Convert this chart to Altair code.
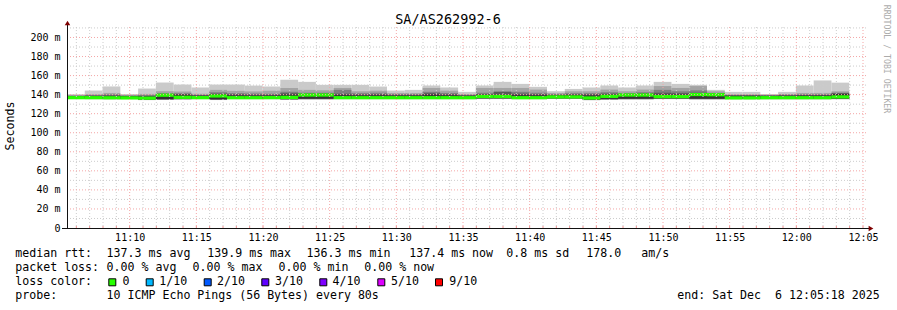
import altair as alt
import pandas as pd

# ---------------- data ----------------
TITLE = "SA/AS262992-6"
X_START = 318      # 11:05:18 in seconds after 11:00:00
X_END = 3918       # 12:05:18
STEP_S = 80        # probe step (seconds)

# sorted ping values (ms) per 80 s step; p1 = fastest ... p10 = slowest
p10 = [140.5,144.3,148.6,140.6,146.4,152.7,150.6,147.5,150.6,150.6,149.5,148.6,155.5,153.4,150.3,150.3,150.3,148.5,144.3,145.0,149.6,147.5,142.9,149.6,153.4,151.3,148.2,143.6,146.0,147.5,149.6,147.5,149.6,153.4,151.3,150.3,145.0,142.9,142.9,140.5,142.9,149.6,154.9,152.6]
p9 = [139.5,140.5,141.8,139.6,140.8,143.6,143.3,141.0,145.0,144.0,143.4,144.0,147.0,145.0,144.6,147.0,143.5,144.2,141.8,141.8,147.0,144.2,140.7,147.0,147.0,147.0,145.3,141.8,143.5,143.5,145.3,143.5,145.3,149.0,147.0,149.0,143.5,140.5,140.5,140.0,140.8,141.8,141.8,143.5]
p8 = [139.0,139.6,140.3,139.0,139.5,141.5,141.5,140.0,142.5,141.6,141.2,141.0,143.0,142.0,142.0,145.0,141.5,142.0,140.5,140.5,143.0,141.8,139.8,142.0,143.5,143.0,142.0,140.5,141.5,141.5,142.5,141.5,142.5,145.0,143.5,144.5,141.8,139.6,139.6,139.6,140.0,140.4,140.4,142.0]
p7 = [138.6,139.0,139.4,138.6,138.8,140.6,140.6,139.4,141.0,140.4,140.0,140.0,141.5,141.0,141.0,141.0,140.2,140.5,139.8,139.8,141.5,140.4,139.3,140.4,142.8,141.0,140.5,139.8,140.4,140.4,141.0,140.8,141.2,142.0,141.5,142.0,141.0,139.2,139.2,139.0,139.4,139.6,139.6,141.3]
p6 = [138.3,138.5,138.6,138.2,138.0,140.2,139.8,138.8,140.2,139.2,139.0,139.0,140.0,140.4,140.4,139.5,139.2,139.3,139.0,139.0,140.0,139.3,138.8,139.8,139.5,139.5,139.3,139.2,139.6,139.2,140.0,140.4,140.6,140.0,140.0,141.2,140.6,138.8,138.8,138.6,138.8,139.0,139.0,140.8]
median = [136.8,136.8,136.7,136.6,136.3,139.4,137.2,136.8,138.6,136.8,136.8,136.8,137.0,139.6,139.6,136.8,136.8,136.8,136.8,136.8,136.8,136.8,136.8,138.0,138.0,136.8,136.8,137.6,137.6,136.5,138.2,139.6,139.6,137.9,137.9,140.1,139.9,136.6,136.6,136.8,136.8,136.8,136.8,137.6]
p5 = [136.3,136.3,136.2,136.0,135.2,135.4,135.8,136.2,135.2,136.2,136.2,136.2,135.6,135.8,135.8,136.2,136.2,136.2,136.2,136.2,136.2,136.2,136.2,136.4,136.4,136.2,136.2,136.4,136.4,135.0,135.6,135.8,135.8,136.2,136.2,135.8,135.8,136.0,136.0,136.0,136.0,136.0,136.0,136.0]
p4 = [136.0,136.0,135.9,135.8,134.8,135.0,135.4,135.8,134.9,135.9,135.9,135.9,135.2,135.5,135.5,135.9,135.9,135.9,135.9,135.9,135.9,135.9,135.9,136.0,136.0,135.9,135.9,136.1,136.1,134.7,135.2,135.5,135.5,135.9,135.9,135.5,135.5,135.7,135.7,135.7,135.7,135.7,135.7,135.7]
p3 = [135.8,135.8,135.6,135.6,134.6,134.8,135.2,135.6,134.7,135.6,135.6,135.6,135.0,135.3,135.3,135.6,135.6,135.6,135.6,135.6,135.6,135.6,135.6,135.7,135.7,135.6,135.6,135.8,135.8,134.5,135.0,135.3,135.3,135.6,135.6,135.3,135.3,135.5,135.5,135.5,135.5,135.5,135.5,135.5]
p2 = [135.6,135.5,135.3,135.4,134.4,134.6,135.0,135.4,134.5,135.4,135.4,135.4,134.8,135.1,135.1,135.4,135.4,135.4,135.4,135.4,135.4,135.4,135.4,135.5,135.5,135.4,135.4,135.6,135.6,134.3,134.8,135.1,135.1,135.4,135.4,135.1,135.1,135.3,135.3,135.3,135.3,135.3,135.3,135.3]
p1 = [135.4,135.2,135.0,135.2,134.2,134.4,134.8,135.2,134.3,135.2,135.2,135.2,134.6,134.9,134.9,135.2,135.2,135.2,135.2,135.2,135.2,135.2,135.2,135.3,135.3,135.2,135.2,135.4,135.4,134.1,134.6,134.9,134.9,135.2,135.2,134.9,134.9,135.1,135.1,135.1,135.1,135.1,135.1,135.1]

y_ticks = [0, 20, 40, 60, 80, 100, 120, 140, 160, 180, 200]
y_major = [20, 40, 60, 80, 100, 120, 140, 160, 180, 200]
y_minor = [10, 30, 50, 70, 90, 110, 130, 150, 170, 190, 210]
x_major = [600, 900, 1200, 1500, 1800, 2100, 2400, 2700, 3000, 3300, 3600, 3900]  # 11:10 .. 12:05
x_minor = [m * 60 for m in range(6, 66) if m % 5 != 0]

loss_labels = ["0", "1/10", "2/10", "3/10", "4/10", "5/10", "9/10"]
loss_colors = ["#26ff00", "#00b8ff", "#0059ff", "#5e00ff", "#7e00ff", "#dd00ff", "#ff0000"]

legend_lines = [
    ["median rtt:", "137.3 ms avg", "139.9 ms max", "136.3 ms min", "137.4 ms now", "0.8 ms sd", "178.0", "am/s"],
    ["packet loss:", "0.00 % avg", "0.00 % max", "0.00 % min", "0.00 % now"],
    ["loss color:"],
    ["probe:", "10 ICMP Echo Pings (56 Bytes) every 80s", "end: Sat Dec \u00a06 12:05:18 2025"],
]

# ---------------- layout (pixels) ----------------
OX, OY = 67, 27          # plot origin in the page
W, H = 800, 201
FONT = "DejaVu Sans Mono"
BIG = 11.6

xs = alt.Scale(domain=[X_START, X_END], nice=False, zero=False)
ys = alt.Scale(domain=[0, 211], nice=False, zero=False)

n = len(median)
t0 = [X_START + STEP_S * k for k in range(n)]
t1 = [t + STEP_S for t in t0]
pings = [p1, p2, p3, p4, p5, p6, p7, p8, p9, p10]
shades = ["#cacaca", "#a4a4a4", "#7e7e7e", "#585858", "#323232"]

layers = []

# smoke bands
for i in range(5):
    df = pd.DataFrame({"t0": t0, "t1": t1, "lo": pings[i], "hi": pings[9 - i]})
    layers.append(alt.Chart(df).mark_rect(color=shades[i], strokeWidth=0).encode(
        x=alt.X("t0:Q", scale=xs, axis=None), x2="t1:Q",
        y=alt.Y("lo:Q", scale=ys, axis=None), y2="hi:Q"))

# median band
HALF = 1.7
dmed = pd.DataFrame({"t0": t0, "t1": t1,
                     "lo": [m - HALF for m in median], "hi": [m + HALF for m in median]})
layers.append(alt.Chart(dmed).mark_rect(color=loss_colors[0], strokeWidth=0).encode(
    x=alt.X("t0:Q", scale=xs, axis=None), x2="t1:Q",
    y=alt.Y("lo:Q", scale=ys, axis=None), y2="hi:Q"))

# grid (drawn over the data like rrdtool)
def vgrid(vals, color):
    return alt.Chart(pd.DataFrame({"v": vals})).mark_rule(
        color=color, strokeDash=[1, 2], strokeWidth=1).encode(
        x=alt.X("v:Q", scale=xs, axis=None), y=alt.value(0), y2=alt.value(H))

def hgrid(vals, color):
    return alt.Chart(pd.DataFrame({"v": vals})).mark_rule(
        color=color, strokeDash=[1, 2], strokeWidth=1).encode(
        y=alt.Y("v:Q", scale=ys, axis=None), x=alt.value(0), x2=alt.value(W))

layers += [vgrid(x_minor, "#cccccc"), hgrid(y_minor, "#cccccc"),
           vgrid(x_major, "#f4a6a6"), hgrid(y_major, "#f4a6a6")]

# axes with labels (no lines)
min_expr = "floor((datum.value % 3600) / 60)"
xlab = ("(floor(datum.value / 3600) + 11) + ':' + (" + min_expr + " < 10 ? '0' : '') + " + min_expr)
axis_layer = alt.Chart(pd.DataFrame({"v": x_major, "w": y_ticks + [0]})).mark_point(opacity=0).encode(
    x=alt.X("v:Q", scale=xs, axis=alt.Axis(values=x_major, labelExpr=xlab, grid=False, ticks=False,
                                           tickSize=0, domain=False, labelPadding=4, title=None,
                                           labelFont=FONT, labelFontSize=10, labelColor="#000",
                                           labelFlush=False, labelOverlap=False)),
    y=alt.Y("w:Q", scale=ys, axis=alt.Axis(values=y_ticks,
                                           labelExpr="datum.value == 0 ? '0\u00a0\u00a0' : datum.value + ' m'",
                                           grid=False, ticks=False, tickSize=0, domain=False,
                                           labelPadding=7, title=None, labelFont=FONT,
                                           labelFontSize=10, labelColor="#000", labelFlush=False,
                                           labelOverlap=False)),
)
layers.append(axis_layer)

# small minute ticks on the time axis
layers.append(alt.Chart(pd.DataFrame({"v": x_minor + x_major})).mark_rule(color="#f08c8c", strokeWidth=1).encode(
    x=alt.X("v:Q", scale=xs, axis=None), y=alt.value(H - 2), y2=alt.value(H)))

# axis lines and arrows
layers.append(alt.Chart(pd.DataFrame({"a": [0]})).mark_rule(color="#111", strokeWidth=1).encode(
    x=alt.value(-5), x2=alt.value(W + 4), y=alt.value(H + 0.5)))
layers.append(alt.Chart(pd.DataFrame({"a": [0]})).mark_rule(color="#111", strokeWidth=1).encode(
    x=alt.value(0.5), y=alt.value(H), y2=alt.value(-4)))
arrows = pd.DataFrame({"x": [0.5, W + 4], "y": [-4, H + 0.5], "s": ["triangle-up", "triangle-right"]})
layers.append(alt.Chart(arrows).mark_point(filled=True, color="#7f0000", size=30, opacity=1).encode(
    x=alt.X("x:Q", scale=None, axis=None), y=alt.Y("y:Q", scale=None, axis=None),
    shape=alt.Shape("s:N", scale=None, legend=None)))

# ---------------- texts ----------------
legend_x = [
    [16, 107.3, 208, 307.3, 410, 507, 587, 642],
    [16, 107.3, 193.3, 279.3, 365],
    [16],
    [16, 107.3, 678],
]
legend_y = [254.3, 268.3, 282.3, 296.3]
rows = []
for line, xs_, yy in zip(legend_lines, legend_x, legend_y):
    for t, xx in zip(line, xs_):
        rows.append({"x": xx - 0.7 - OX, "y": yy - OY, "text": t})
sq_left = [108.3, 145.7, 203.7, 261.3, 319.3, 377.3, 435]
lab_left = [123.3, 160, 217.7, 275.7, 333.3, 391.7, 450]
for t, xx in zip(loss_labels, lab_left):
    rows.append({"x": xx - 0.7 - OX, "y": 282.3 - OY, "text": t})

def text_layer(df, **kw):
    return alt.Chart(df).mark_text(font=FONT, **kw).encode(
        x=alt.X("x:Q", scale=None, axis=None), y=alt.Y("y:Q", scale=None, axis=None), text="text:N")

layers.append(text_layer(pd.DataFrame(rows), fontSize=BIG, align="left", baseline="middle", color="#000"))
layers.append(text_layer(pd.DataFrame({"x": [448 - OX], "y": [19.7 - OY], "text": [TITLE]}),
                         fontSize=13.5, align="center", baseline="middle", color="#000"))
layers.append(text_layer(pd.DataFrame({"x": [11 - OX], "y": [126 - OY], "text": ["Seconds"]}),
                         fontSize=BIG, align="center", baseline="middle", angle=270, color="#000"))
layers.append(text_layer(pd.DataFrame({"x": [886 - OX], "y": [59 - OY], "text": ["RRDTOOL / TOBI OETIKER"]}),
                         fontSize=8.2, align="center", baseline="middle", angle=90, color="#ababab"))

# loss colour squares
sq = pd.DataFrame({"x": [l + 0.5 - OX for l in sq_left], "x2": [l + 7.5 - OX for l in sq_left],
                   "y": [278.8 - OY] * 7, "y2": [285.8 - OY] * 7, "c": loss_colors})
layers.append(alt.Chart(sq).mark_rect(stroke="#000", strokeWidth=1).encode(
    x=alt.X("x:Q", scale=None, axis=None), x2="x2:Q",
    y=alt.Y("y:Q", scale=None, axis=None), y2="y2:Q",
    fill=alt.Fill("c:N", scale=None, legend=None)))

chart = alt.layer(*layers).resolve_scale(x="independent", y="independent").properties(
    width=W, height=H, autosize="none",
    padding={"left": OX, "top": OY, "right": 897 - OX - W, "bottom": 310 - OY - H},
    background="white",
).configure_view(stroke=None)

chart.save("out.html", embed_options={"renderer": "svg", "actions": False})
